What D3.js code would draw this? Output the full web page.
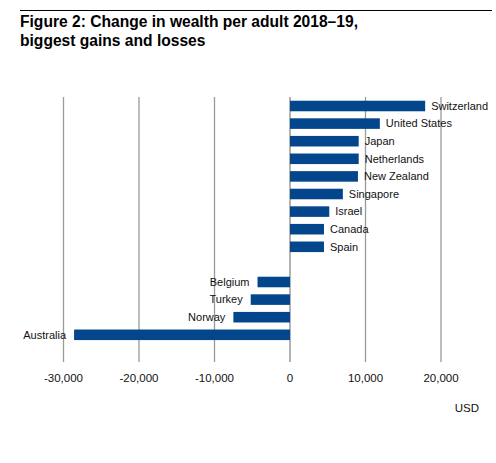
<!DOCTYPE html>
<html>
<head>
<meta charset="utf-8">
<script src="https://cdn.jsdelivr.net/npm/d3@7"></script>
<style>
  body { margin: 0; background: #fff; }
  text { font-family: "Liberation Sans", Arial, sans-serif; }
</style>
</head>
<body>
<div id="graph"></div>
<script>
let width = 496, height = 463;

// Data
const countries = ["Switzerland", "United States", "Japan", "Netherlands", "New Zealand", "Singapore", "Israel", "Canada", "Spain", "", "Belgium", "Turkey", "Norway", "Australia"];
const changes = [17900, 11900, 9100, 9100, 9000, 7000, 5200, 4500, 4500, null, -4300, -5200, -7500, -28600];
const tickValues = [-30000, -20000, -10000, 0, 10000, 20000];

let data = countries.map((c, i) => ({ name: c, value: changes[i], key: "row" + i }));

let svg = d3.select("#graph").append("svg")
  .attr("width", width)
  .attr("height", height);

// top rule
svg.append("line")
  .attr("x1", 20).attr("x2", 492)
  .attr("y1", 10.5).attr("y2", 10.5)
  .attr("stroke", "#000")
  .attr("stroke-width", 1);

// Title
let title = svg.append("text")
  .style("font-size", "15.6px")
  .style("font-weight", "bold")
  .attr("fill", "#000");
title.append("tspan").attr("x", 20).attr("y", 27).text("Figure 2: Change in wealth per adult 2018\u201319,");
title.append("tspan").attr("x", 20).attr("y", 46).text("biggest gains and losses");

// Scales
let x = d3.scaleLinear()
  .domain([-30000, 20000])
  .range([63.5, 441]);

let y = d3.scaleBand()
  .domain(data.map(d => d.key))
  .range([97.2, 343.6])
  .paddingInner(0.4)
  .paddingOuter(0.2);

// Gridlines
svg.append("g")
  .selectAll("line")
  .data(tickValues)
  .enter().append("line")
  .attr("x1", d => x(d)).attr("x2", d => x(d))
  .attr("y1", 97).attr("y2", 362)
  .attr("stroke", d => d === 0 ? "#8a8a8a" : "#9a9a9a")
  .attr("stroke-width", 1.3);

// Bars
let bars = data.filter(d => d.value !== null);
svg.append("g")
  .selectAll("rect")
  .data(bars)
  .enter().append("rect")
  .attr("x", d => x(Math.min(0, d.value)))
  .attr("y", d => y(d.key))
  .attr("width", d => Math.abs(x(d.value) - x(0)))
  .attr("height", y.bandwidth())
  .attr("fill", "#04468c");

// Bar labels
svg.append("g")
  .selectAll("text")
  .data(bars)
  .enter().append("text")
  .attr("x", d => d.value >= 0 ? x(d.value) + 6 : x(d.value) - 8)
  .attr("y", d => y(d.key) + y.bandwidth() / 2)
  .attr("dy", "0.35em")
  .attr("text-anchor", d => d.value >= 0 ? "start" : "end")
  .style("font-size", "11px")
  .attr("fill", "#111")
  .text(d => d.name);

// Tick labels
svg.append("g")
  .selectAll("text")
  .data(tickValues)
  .enter().append("text")
  .attr("x", d => x(d))
  .attr("y", 382)
  .attr("text-anchor", "middle")
  .style("font-size", "11.5px")
  .attr("fill", "#111")
  .text(d => d3.format(",")(d).replace("−", "-"));

// Unit
svg.append("text")
  .attr("x", 479)
  .attr("y", 412)
  .attr("text-anchor", "end")
  .style("font-size", "11.5px")
  .attr("fill", "#111")
  .text("USD");
</script>
</body>
</html>
